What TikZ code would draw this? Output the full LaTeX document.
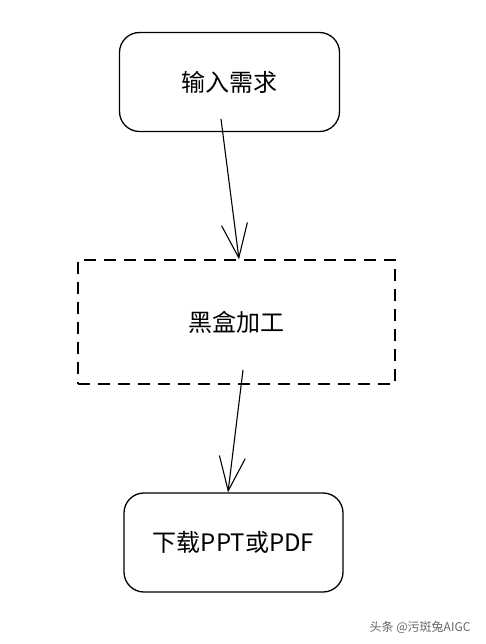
\documentclass[tikz,border=0pt]{standalone}
\usepackage{fontspec}
\setmainfont{Noto Sans CJK SC}
\usetikzlibrary{arrows.meta, calc}

\begin{document}
\begin{tikzpicture}[x=1pt, y=-1pt]
  % Styles
  \tikzset{
    stepnode/.style={
      draw, line width=1.3pt,
      rounded corners=20pt,
      minimum width=220pt, minimum height=99pt,
      inner sep=0pt,
      font=\fontsize{24}{28}\selectfont
    },
    blackbox/.style={
      stepnode, rounded corners=0pt,
      dash pattern=on 12pt off 8pt,
      minimum width=317pt, minimum height=124pt
    },
    flow/.style={
      line width=1.1pt,
      -{Straight Barb[length=34pt, width=26pt, line width=1.1pt]}
    }
  }
  \useasboundingbox (0,0) rectangle (485,644);

  % the three steps
  \node[stepnode] (input) at (229.5,82) {输入需求};
  \node[blackbox] (proc) at (236.5,322) {黑盒加工};
  \node[stepnode, minimum width=219pt] (output) at (233.5,542.5) {下载PPT或PDF};

  % arrows start inside the boxes
  \coordinate (input-start) at (221,119);
  \coordinate (proc-start) at (243,370);
  \draw[flow] (input-start) -- ($(proc.north)+(2.5,0)$);
  \draw[flow] (proc-start) -- ($(output.north)+(-5.5,0)$);

  % watermark
  \node[font=\fontsize{12}{14}\selectfont, text=black!60, anchor=east]
    (mark) at (474,627) {头条 @污斑兔AIGC};
\end{tikzpicture}
\end{document}
